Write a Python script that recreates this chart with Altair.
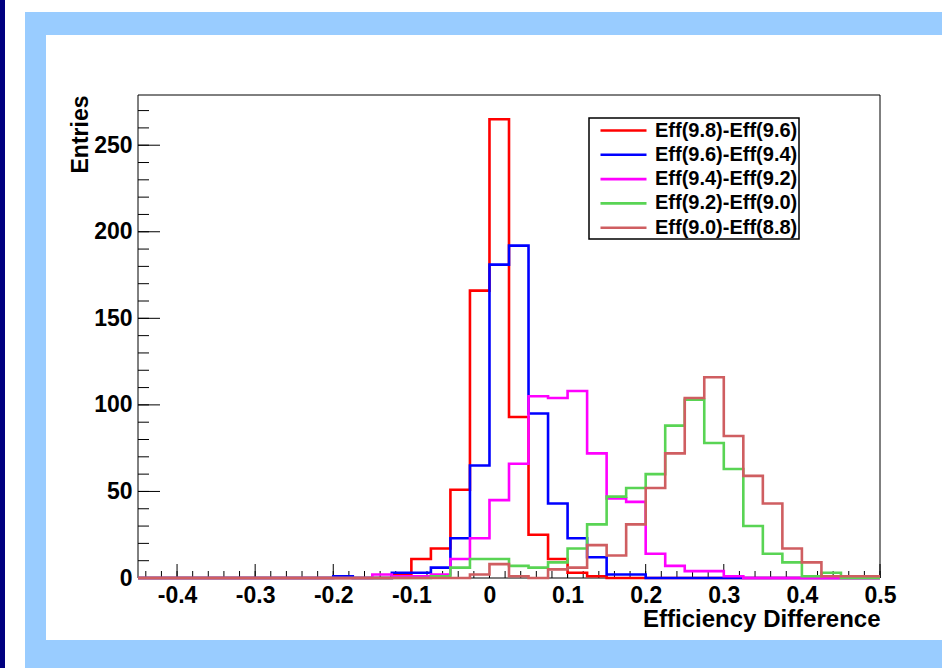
import altair as alt
import pandas as pd

# ---------------- data ----------------
X_START = -0.45
BIN_W = 0.025
X_END = 0.5

series_names = ["Eff(9.8)-Eff(9.6)", "Eff(9.6)-Eff(9.4)", "Eff(9.4)-Eff(9.2)",
                "Eff(9.2)-Eff(9.0)", "Eff(9.0)-Eff(8.8)"]
series_colors = ["#ff0000", "#0000ff", "#ff00ff", "#59d454", "#cf5e61"]

red = [0, 0, 0, 0, 0, 0, 0, 0, 0, 0,
       0, 0, 0, 2, 11, 17, 51, 166, 265, 93,
       25, 11, 3, 1, 0, 0, 0, 0, 0, 0,
       0, 0, 0, 0, 0, 0, 0, 0]
blue = [0, 0, 0, 0, 0, 0, 0, 0, 0, 0,
        1, 0, 0, 3, 3, 6, 23, 65, 181, 192,
        95, 43, 23, 12, 2, 2, 0, 0, 0, 0,
        0, 0, 0, 0, 0, 0, 0, 0]
magenta = [0, 0, 0, 0, 0, 0, 0, 0, 0, 0,
           0, 0, 2, 1, 1, 2, 11, 23, 45, 66,
           105, 104, 108, 72, 46, 44, 14, 7, 4, 4,
           1, 0, 0, 0, 0, 0, 0, 0]
green = [0, 0, 0, 0, 0, 0, 0, 0, 0, 0,
         0, 0, 0, 0, 0, 1, 6, 11, 11, 7,
         6, 9, 17, 31, 47, 52, 60, 88, 103, 78,
         63, 30, 14, 9, 1, 3, 0, 0]
brown = [0, 0, 0, 0, 0, 0, 0, 0, 0, 0,
         0, 0, 0, 0, 0, 0, 0, 2, 8, 1,
         0, 5, 6, 19, 13, 31, 52, 72, 104, 116,
         82, 59, 43, 17, 9, 1, 1, 1]

series_values = [red, blue, magenta, green, brown]

x_major = [-0.4, -0.3, -0.2, -0.1, 0.0, 0.1, 0.2, 0.3, 0.4, 0.5]
x_minor = [round(-0.44 + 0.02 * k, 2) for k in range(48)]
y_major = [0, 50, 100, 150, 200, 250]
y_minor = list(range(0, 280, 10))

rows = []
for name, vals in zip(series_names, series_values):
    for i, v in enumerate(vals):
        rows.append({"series": name, "x": round(X_START + BIN_W * i, 4), "y": v})
    rows.append({"series": name, "x": X_END, "y": vals[-1]})
df = pd.DataFrame(rows)

# ---------------- layout ----------------
W, H = 742, 483
FONT = "Liberation Sans"

xscale = alt.Scale(domain=[-0.45, 0.5], nice=False, zero=False)
yscale = alt.Scale(domain=[0, 279], nice=False, zero=False)

one = pd.DataFrame({"k": [0]})

dark_strip = alt.Chart(one).mark_rect(color="#000080").encode(
    x=alt.value(-138), x2=alt.value(-133), y=alt.value(-95), y2=alt.value(573))
blue_frame = alt.Chart(one).mark_rect(color="#99ccff").encode(
    x=alt.value(-113), x2=alt.value(804), y=alt.value(-83), y2=alt.value(573))
white_panel = alt.Chart(one).mark_rect(color="white").encode(
    x=alt.value(-92), x2=alt.value(804), y=alt.value(-60), y2=alt.value(545))
plot_frame = alt.Chart(one).mark_rect(fill="white", fillOpacity=0, stroke="black",
                                      strokeWidth=1).encode(
    x=alt.value(0), x2=alt.value(W), y=alt.value(0), y2=alt.value(H))

x_axis = alt.Axis(values=x_major,
                  labelExpr="datum.value == 0 ? '0' : (datum.value < 0 ? '-' + format(abs(datum.value), '.1f') : format(datum.value, '.1f'))",
                  title="Efficiency Difference", titleAnchor="end",
                  titleFont=FONT, titleFontSize=24, titleFontWeight="bold",
                  titleColor="black", titlePadding=0,
                  labelFont=FONT, labelFontSize=23, labelFontWeight="bold",
                  labelColor="black", labelPadding=6, labelFlush=False,
                  labelOverlap=False, ticks=False, domain=False, grid=False,
                  zindex=1)
y_axis = alt.Axis(values=y_major, title="Entries", titleAnchor="end",
                  titleFont=FONT, titleFontSize=23, titleFontWeight="bold",
                  titleColor="black", titlePadding=1,
                  labelFont=FONT, labelFontSize=23, labelFontWeight="bold",
                  labelColor="black", labelPadding=6, labelFlush=False,
                  labelOverlap=False, ticks=False, domain=False, grid=False,
                  zindex=1)

legend = alt.Legend(title=None, orient="none", legendX=451, legendY=23,
                    symbolType="M-2.3,0H2.3", symbolSize=400,
                    symbolStrokeWidth=2.6, symbolOffset=22, labelOffset=20,
                    labelFont=FONT, labelFontSize=20, labelFontWeight="bold",
                    labelColor="black", labelLimit=400,
                    padding=1, rowPadding=2.3, strokeColor="black",
                    fillColor="white", zindex=1)

lines = alt.Chart(df).mark_line(interpolate="step-after", strokeWidth=2.6).encode(
    x=alt.X("x:Q", scale=xscale, axis=x_axis),
    y=alt.Y("y:Q", scale=yscale, axis=y_axis),
    color=alt.Color("series:N", scale=alt.Scale(domain=series_names, range=series_colors),
                    legend=legend),
)

xt_major = alt.Chart(pd.DataFrame({"x": x_major})).mark_rule(color="black", strokeWidth=1).encode(
    x=alt.X("x:Q", scale=xscale, axis=x_axis), y=alt.value(H), y2=alt.value(H - 14))
xt_minor = alt.Chart(pd.DataFrame({"x": x_minor})).mark_rule(color="black", strokeWidth=1).encode(
    x=alt.X("x:Q", scale=xscale, axis=x_axis), y=alt.value(H), y2=alt.value(H - 7))
yt_major = alt.Chart(pd.DataFrame({"y": y_major})).mark_rule(color="black", strokeWidth=1).encode(
    y=alt.Y("y:Q", scale=yscale, axis=y_axis), x=alt.value(0), x2=alt.value(22))
yt_minor = alt.Chart(pd.DataFrame({"y": y_minor})).mark_rule(color="black", strokeWidth=1).encode(
    y=alt.Y("y:Q", scale=yscale, axis=y_axis), x=alt.value(0), x2=alt.value(11))

chart = alt.layer(
    dark_strip, blue_frame, white_panel, plot_frame,
    xt_major, xt_minor, yt_major, yt_minor, lines
).properties(
    width=W, height=H,
    padding={"left": 138, "top": 95, "right": 62, "bottom": 90},
    autosize=alt.AutoSizeParams(type="none"),
    background="white",
).configure_view(stroke=None).configure_legend(strokeWidth=1.5, cornerRadius=0)

chart.save("out.html", embed_options={"renderer": "svg", "actions": False})
